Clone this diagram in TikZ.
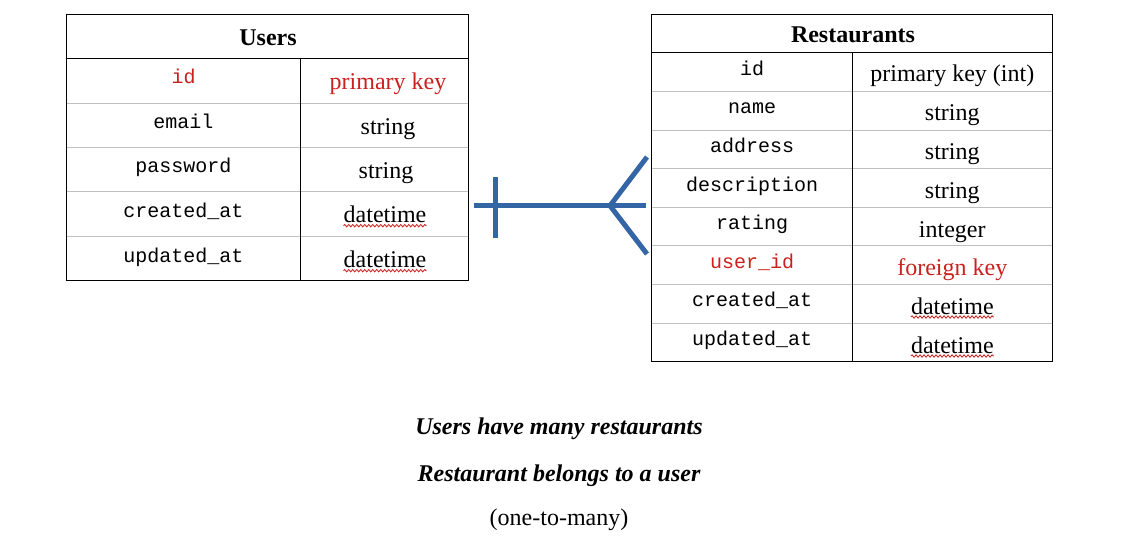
\documentclass[tikz,border=0pt]{standalone}
\usepackage{fontspec}
\setmainfont{Liberation Serif}
\setmonofont{Liberation Mono}
\usetikzlibrary{decorations.pathmorphing}
\definecolor{keyred}{HTML}{C9211E}
\definecolor{linkblue}{HTML}{3465A4}
\definecolor{gridgray}{HTML}{C0C0C0}
\tikzset{
  serif/.style={font=\fontsize{24}{28}\selectfont, anchor=base, inner sep=0pt},
  mono/.style={font=\ttfamily\fontsize{20}{24}\selectfont, anchor=base, inner sep=0pt},
  head/.style={font=\bfseries\fontsize{24}{28}\selectfont, anchor=base, inner sep=0pt},
  caption/.style={font=\fontsize{24}{28}\selectfont, anchor=base, inner sep=0pt},
  frame/.style={draw=black, line width=1pt},
  rule/.style={draw=gridgray, line width=1pt},
  link/.style={draw=linkblue, line width=5pt},
  squiggle/.style={draw=keyred, line width=0.8pt, decorate,
    decoration={snake, amplitude=1.2pt, segment length=4pt}},
}
\begin{document}
\begin{tikzpicture}[x=1pt,y=-1pt]
\useasboundingbox (0,0) rectangle (1147,556);

% ---------- Users table ----------
\foreach \yy in {103.3,147.3,191.7,236.7}
  \draw[rule] (66.7,\yy) -- (468.3,\yy);
\draw[frame] (66.7,14.7) rectangle (468.3,280);
\draw[frame] (66.7,58.3) -- (468.3,58.3);
\draw[frame] (300.3,58.3) -- (300.3,280);

\node[head] (usersHead) at (268,45.5) {Users};
\node[mono, text=keyred] (uId) at (183.5,83.8) {id};
\node[serif, text=keyred] (uIdT) at (388,89.3) {primary key};
\node[mono] (uEmail) at (183.5,128.8) {email};
\node[serif] (uEmailT) at (388,134.3) {string};
\node[mono] (uPass) at (183.5,172.8) {password};
\node[serif] (uPassT) at (386,178.3) {string};
\node[mono] (uCre) at (183.5,217.2) {created\_at};
\node[serif] (uCreT) at (385,222.7) {datetime};
\node[mono] (uUpd) at (183.5,262.2) {updated\_at};
\node[serif] (uUpdT) at (385,267.7) {datetime};
\draw[squiggle] ([yshift=-3pt]uCreT.base west) -- ([yshift=-3pt]uCreT.base east);
\draw[squiggle] ([yshift=-3pt]uUpdT.base west) -- ([yshift=-3pt]uUpdT.base east);

% ---------- Restaurants table ----------
\foreach \yy in {91.3,130.3,168.7,207.3,245.7,284.3,323.3}
  \draw[rule] (651.7,\yy) -- (1052.3,\yy);
\draw[frame] (651.7,14.7) rectangle (1052.3,361);
\draw[frame] (651.7,52.7) -- (1052.3,52.7);
\draw[frame] (852.3,52.7) -- (852.3,361);

\node[head] (restHead) at (853,42.8) {Restaurants};
\node[mono] (rId) at (752,75.2) {id};
\node[serif] (rIdT) at (952.3,82) {primary key (int)};
\node[mono] (rName) at (752,113.8) {name};
\node[serif] (rNameT) at (952.3,121) {string};
\node[mono] (rAddr) at (752,152.8) {address};
\node[serif] (rAddrT) at (952.3,160) {string};
\node[mono] (rDesc) at (752,191.2) {description};
\node[serif] (rDescT) at (952.3,198.4) {string};
\node[mono] (rRate) at (752,229.8) {rating};
\node[serif] (rRateT) at (952.3,237) {integer};
\node[mono, text=keyred] (rUser) at (752,268.2) {user\_id};
\node[serif, text=keyred] (rUserT) at (952.3,275.4) {foreign key};
\node[mono] (rCre) at (752,306.8) {created\_at};
\node[serif] (rCreT) at (952.3,314) {datetime};
\node[mono] (rUpd) at (752,345.8) {updated\_at};
\node[serif] (rUpdT) at (952.3,353) {datetime};
\draw[squiggle] ([yshift=-3pt]rCreT.base west) -- ([yshift=-3pt]rCreT.base east);
\draw[squiggle] ([yshift=-3pt]rUpdT.base west) -- ([yshift=-3pt]rUpdT.base east);

% ---------- one-to-many connector ----------
\coordinate (oneEnd) at (474,205.7);
\coordinate (manyEnd) at (646,205.7);
\coordinate (barTop) at (495,177);
\coordinate (barBot) at (495,238);
\coordinate (crowApex) at (610,205.7);
\coordinate (crowUp) at (647,157);
\coordinate (crowDown) at (647,254);
\draw[link] (oneEnd) -- (manyEnd);
\draw[link] (barTop) -- (barBot);
\draw[link] (crowUp) -- (crowApex) -- (crowDown);

% ---------- captions ----------
\node[caption, font=\bfseries\itshape\fontsize{24}{28}\selectfont] (cap1) at (559,434) {Users have many restaurants};
\node[caption, font=\bfseries\itshape\fontsize{24}{28}\selectfont] (cap2) at (559,481) {Restaurant belongs to a user};
\node[caption] (cap3) at (559,525.5) {(one-to-many)};
\end{tikzpicture}
\end{document}
